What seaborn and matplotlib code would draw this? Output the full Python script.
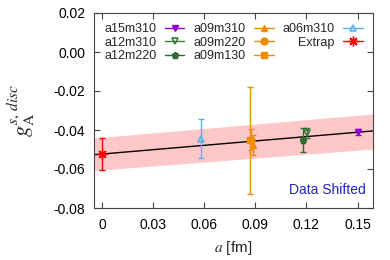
import matplotlib
matplotlib.use("Agg")
import matplotlib.pyplot as plt
from matplotlib.lines import Line2D
import seaborn as sns

# ensemble data (lattice spacing shifted slightly for visibility)
labels = ["a15m310", "a12m310", "a12m220", "a09m310", "a09m220", "a09m130", "a06m310", "Extrap"]
a_fm = [0.1504, 0.1205, 0.1180, 0.0885, 0.0872, 0.0867, 0.0582, 0.0]
g_val = [-0.0412, -0.0416, -0.0450, -0.0476, -0.0450, -0.0453, -0.0444, -0.0523]
g_err = [0.0015, 0.0026, 0.0062, 0.0050, 0.0055, 0.0273, 0.0099, 0.0083]
colors = ["#9400d3", "#3a7a3a", "#2f6b2f", "#f08c00", "#f08c00", "#f08c00", "#56b4e9", "#ff0000"]
markers = ["v", "v", "p", "^", "o", "s", "^", (8, 2, 0)]
filled = [True, False, True, True, True, True, False, True]

# fit line and error band
fit_a = [-0.005, 0.16]
fit_mid = [-0.0527, -0.0404]
fit_lo = [-0.0608, -0.0497]
fit_hi = [-0.0441, -0.0317]

sns.set_style("ticks")
plt.rcParams["font.family"] = ["Liberation Sans", "DejaVu Sans"]
plt.rcParams["mathtext.fontset"] = "stix"

fig = plt.figure(figsize=(3.9, 2.6), dpi=100)
ax = fig.add_axes([0.24, 0.2, 0.716, 0.75])

ax.fill_between(fit_a, fit_lo, fit_hi, color="#ffc8c8", lw=0, zorder=1)
sns.lineplot(x=fit_a, y=fit_mid, color="black", lw=1.0, ax=ax, zorder=2)

handles = []
for lab, x, y, e, c, m, f in zip(labels, a_fm, g_val, g_err, colors, markers, filled):
    face = c if f else "none"
    ms = 7 if lab == "Extrap" else 5
    ax.errorbar(x, y, yerr=e, fmt="none", ecolor=c, elinewidth=1.0, capsize=2, capthick=1.0, zorder=3)
    ax.plot(x, y, marker=m, ms=ms, mfc=face, mec=c, mew=1.0 if f else 1.2, ls="none", zorder=4)
    handles.append(Line2D([], [], color=c, lw=1.0, marker=m, ms=ms, mfc=face, mec=c,
                          mew=1.0 if f else 1.2, label=lab))

leg = ax.legend(handles=handles, ncol=3, loc="upper left", bbox_to_anchor=(0.015, 0.98),
                frameon=False, fontsize=9, markerfirst=False, handlelength=1.55,
                handletextpad=0.7, columnspacing=0.7, labelspacing=0.12,
                borderaxespad=0.1)
for t in leg.get_texts():
    t.set_ha("right")

ax.text(0.975, 0.055, "Data Shifted", transform=ax.transAxes, ha="right", va="bottom",
        color="#2323c8", fontsize=10)

ax.set_xlim(-0.005, 0.159)
ax.set_ylim(-0.08, 0.02)
ax.set_xticks([0, 0.03, 0.06, 0.09, 0.12, 0.15])
ax.set_xticklabels(["0", "0.03", "0.06", "0.09", "0.12", "0.15"])
ax.set_yticks([-0.08, -0.06, -0.04, -0.02, 0.0, 0.02])
ax.set_yticklabels(["-0.08", "-0.06", "-0.04", "-0.02", "0.00", "0.02"])
ax.tick_params(direction="in", length=4, width=0.8, labelsize=10, top=True, right=True,
               colors="#444444", labelcolor="black")
ax.tick_params(axis="x", pad=7)
ax.tick_params(axis="y", pad=6)
for s in ax.spines.values():
    s.set_color("#444444")
    s.set_linewidth(0.8)

ax.set_xlabel(r"$a$ [fm]", fontsize=11, labelpad=5)
ax.set_ylabel(r"$g_{\mathrm{A}}^{s,\,disc}$", fontsize=16, labelpad=12)

fig.savefig("out.png", dpi=100)
